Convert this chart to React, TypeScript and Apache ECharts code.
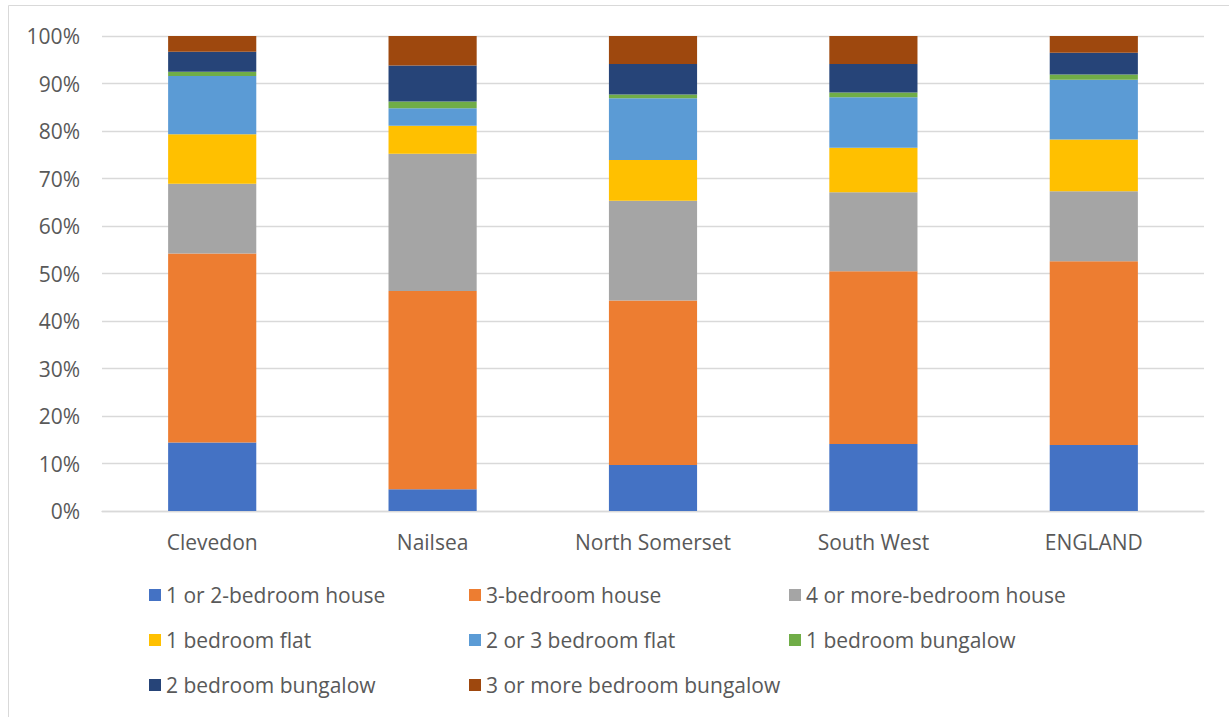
import React, { useEffect, useRef } from "react";
import * as echarts from "echarts";

// Share of dwellings by type and size (%)
const areas = ["Clevedon", "Nailsea", "North Somerset", "South West", "ENGLAND"];

const house1to2 = [14.4, 4.6, 9.7, 14.1, 13.9];
const house3 = [39.8, 41.7, 34.6, 36.4, 38.7];
const house4plus = [14.7, 28.9, 21.0, 16.6, 14.7];
const flat1 = [10.4, 5.9, 8.6, 9.4, 10.9];
const flat2to3 = [12.3, 3.7, 13.0, 10.6, 12.6];
const bungalow1 = [0.9, 1.4, 0.8, 1.0, 1.1];
const bungalow2 = [4.2, 7.6, 6.4, 6.0, 4.6];
const bungalow3plus = [3.3, 6.2, 5.9, 5.9, 3.5];

const seriesNames = [
  "1 or 2-bedroom house",
  "3-bedroom house",
  "4 or more-bedroom house",
  "1 bedroom flat",
  "2 or 3 bedroom flat",
  "1 bedroom bungalow",
  "2 bedroom bungalow",
  "3 or more bedroom bungalow",
];
const seriesValues = [
  house1to2,
  house3,
  house4plus,
  flat1,
  flat2to3,
  bungalow1,
  bungalow2,
  bungalow3plus,
];
const seriesColors = [
  "#4472C4",
  "#ED7D31",
  "#A5A5A5",
  "#FFC000",
  "#5B9BD5",
  "#70AD47",
  "#264478",
  "#9E480E",
];

const FONT = "'Open Sans', sans-serif";
const TEXT = "#595959";
const GRID = "#D9D9D9";
const FS = 21;

export default function App() {
  const ref = useRef<HTMLDivElement>(null);

  useEffect(() => {
    if (!ref.current) return;
    const chart = echarts.init(ref.current, null, { renderer: "svg" });

    const legendCols = [149, 469, 789];
    const legendRows = [596, 641, 686];
    const legends = seriesNames.map((name, i) => ({
      show: true,
      data: [name],
      left: legendCols[i % 3],
      top: legendRows[Math.floor(i / 3)] - 14,
      padding: 0,
      icon: "rect",
      itemWidth: 12,
      itemHeight: 12,
      selectedMode: false,
      textStyle: {
        color: TEXT,
        fontFamily: FONT,
        fontSize: FS,
        lineHeight: 26,
        padding: [0, 0, 0, 0],
      },
    }));

    chart.setOption({
      animation: false,
      textStyle: { fontFamily: FONT },
      graphic: [
        {
          type: "rect",
          shape: { x: 8.5, y: 5.5, width: 1300, height: 800 },
          style: { fill: "none", stroke: GRID, lineWidth: 1 },
          silent: true,
        },
      ],
      legend: legends,
      grid: { left: 102, right: 25, top: 36, bottom: 206, containLabel: false },
      xAxis: {
        type: "category",
        data: areas,
        axisLine: { show: true, lineStyle: { color: GRID, width: 1.3 } },
        axisTick: { show: false },
        axisLabel: {
          color: TEXT,
          fontFamily: FONT,
          fontSize: FS,
          margin: 20,
        },
      },
      yAxis: {
        type: "value",
        min: 0,
        max: 100,
        interval: 10,
        axisLine: { show: false },
        axisTick: { show: false },
        splitLine: { lineStyle: { color: GRID, width: 1.3 } },
        axisLabel: {
          formatter: "{value}%",
          color: TEXT,
          fontFamily: FONT,
          fontSize: FS,
          margin: 22,
        },
      },
      series: seriesNames.map((name, i) => ({
        name,
        type: "bar",
        stack: "total",
        data: seriesValues[i],
        barWidth: "40%",
        itemStyle: { color: seriesColors[i] },
      })),
    });

    return () => chart.dispose();
  }, []);

  return (
    <div
      ref={ref}
      style={{ position: "absolute", left: 0, top: 0, width: 1229, height: 717 }}
    />
  );
}
